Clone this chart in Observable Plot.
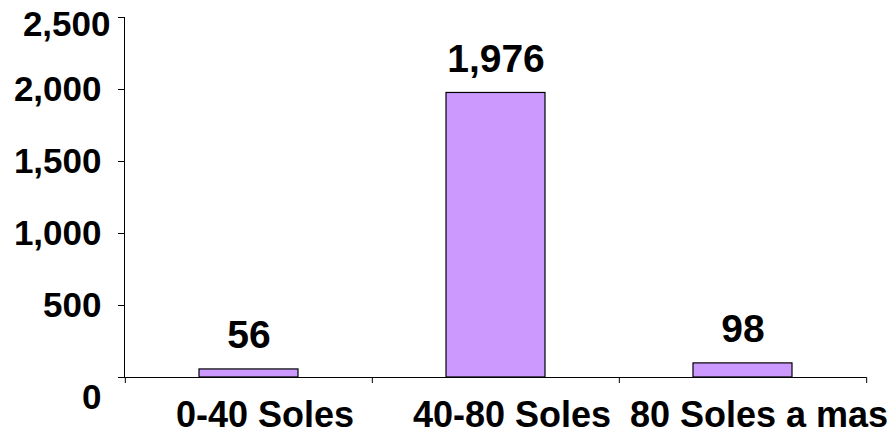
<!DOCTYPE html>
<html><head><meta charset="utf-8">
<script src="https://cdn.jsdelivr.net/npm/d3@7"></script>
<script src="https://cdn.jsdelivr.net/npm/@observablehq/plot@0.6"></script>
<style>body{margin:0;background:#fff;}</style>
</head><body><div id="chart"></div>
<script>
const categories = ["0-40 Soles", "40-80 Soles", "80 Soles a mas"];
const values = [56, 1976, 98];
const yTicks = [0, 500, 1000, 1500, 2000, 2500];

const data = categories.map((c, i) => ({category: c, value: values[i]}));
const W = 894, H = 434, mL = 124, mR = 28, mT = 17, mB = 57;
const step = (W - mL - mR) / categories.length;
const fmt = d3.format(",");
const font = "'Liberation Sans', Arial, Helvetica, sans-serif";

const chart = Plot.plot({
  width: W, height: H,
  marginLeft: mL, marginRight: mR, marginTop: mT, marginBottom: mB,
  style: {fontFamily: font, fontWeight: "bold", fontSize: "35px", color: "#000", background: "#fff", overflow: "visible"},
  x: {domain: categories, paddingInner: 0.6, paddingOuter: 0.3, align: 0.5, axis: null, label: null},
  y: {domain: [0, 2500], axis: null, label: null},
  marks: [
    Plot.barY(data, {x: "category", y: "value", fill: "#CC99FF", stroke: "#000", strokeWidth: 1.2}),
    Plot.ruleY([0], {stroke: "#000"}),
    Plot.frame({anchor: "left", stroke: "#000"}),
    // boundary ticks on x axis
    Plot.ruleX(categories, {x: d => d, dx: -step / 2, y1: 0, y2: 0, insetBottom: -6, stroke: "#000"}),
    Plot.ruleX(categories.slice(-1), {x: d => d, dx: step / 2, y1: 0, y2: 0, insetBottom: -6, stroke: "#000"}),
    // y ticks
    Plot.axisY({ticks: yTicks, tickSize: 6, tickFormat: () => "", stroke: "#000", label: null}),
    // y labels
    Plot.axisY({ticks: yTicks.filter(t => t > 0 && t < 2500), tickSize: 0, tickPadding: 23, tickFormat: fmt, fontSize: 35, fill: "#000", label: null}),
    Plot.axisY({ticks: [0], tickSize: 0, tickPadding: 23, dy: 20, tickFormat: fmt, fontSize: 35, fill: "#000", label: null}),
    Plot.axisY({ticks: [2500], tickSize: 0, tickPadding: 14, dy: 7, tickFormat: fmt, fontSize: 35, fill: "#000", label: null}),
    // x labels
    Plot.axisX({tickSize: 0, tickPadding: 24, dx: 16, fontSize: 36, fill: "#000", label: null}),
    // value labels
    Plot.text(data, {x: "category", y: "value", text: d => fmt(d.value), lineAnchor: "bottom", dy: -21, fontSize: 39, fontWeight: "bold", fill: "#000"})
  ]
});
document.getElementById("chart").appendChild(chart);
</script>
</body></html>
